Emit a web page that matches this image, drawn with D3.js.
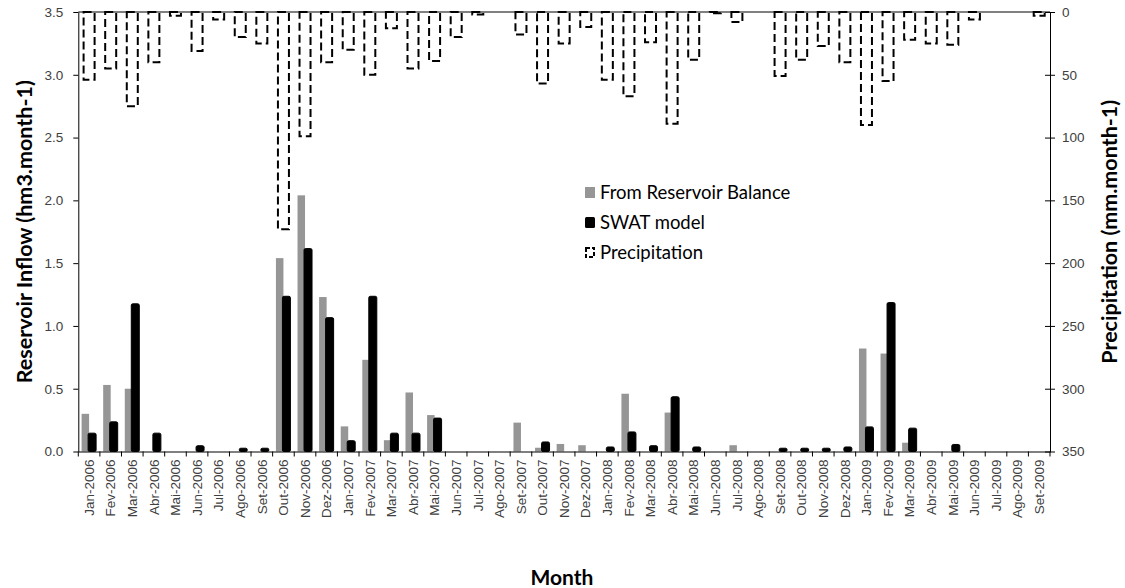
<!DOCTYPE html>
<html>
<head>
<meta charset="utf-8">
<script src="https://cdn.jsdelivr.net/npm/d3@7"></script>
<style>
  body { margin: 0; background: #fff; }
  svg { font-family: Lato, "Open Sans", sans-serif; }
  .axis text { fill: #404040; font-size: 13.5px; }
  .axis path, .axis line { stroke: #000; }
</style>
</head>
<body>
<script>
const width = 1125;
const height = 588;

// months on the category axis
const months = [
  "Jan-2006","Fev-2006","Mar-2006","Abr-2006","Mai-2006","Jun-2006","Jul-2006","Ago-2006","Set-2006","Out-2006","Nov-2006","Dez-2006",
  "Jan-2007","Fev-2007","Mar-2007","Abr-2007","Mai-2007","Jun-2007","Jul-2007","Ago-2007","Set-2007","Out-2007","Nov-2007","Dez-2007",
  "Jan-2008","Fev-2008","Mar-2008","Abr-2008","Mai-2008","Jun-2008","Jul-2008","Ago-2008","Set-2008","Out-2008","Nov-2008","Dez-2008",
  "Jan-2009","Fev-2009","Mar-2009","Abr-2009","Mai-2009","Jun-2009","Jul-2009","Ago-2009","Set-2009"
];

// reservoir inflow (hm3.month-1)
const reservoirBalance = [
  0.30,0.53,0.50,0,0,0,0,0,0,1.54,2.04,1.23,
  0.20,0.73,0.09,0.47,0.29,0,0,0,0.23,0.03,0.06,0.05,
  0,0.46,0,0.31,0,0,0.05,0,0,0,0,0,
  0.82,0.78,0.07,0,0,0,0,0,0
];
const swatModel = [
  0.15,0.24,1.18,0.15,0,0.05,0,0.03,0.03,1.24,1.62,1.07,
  0.09,1.24,0.15,0.15,0.27,0,0,0,0,0.08,0,0,
  0.04,0.16,0.05,0.44,0.04,0,0,0,0.03,0.03,0.03,0.04,
  0.20,1.19,0.19,0,0.06,0,0,0,0
];

// precipitation (mm.month-1), secondary axis, reversed
const precipitation = [
  54,45,75,40,3,31,6,20,25,173,99,40,
  30,50,13,45,39,20,2,0,18,57,25,12,
  54,67,24,89,38,1,8,0,51,38,27,40,
  90,55,22,25,26,6,0,0,3
];

const leftTicks = [0, 0.5, 1, 1.5, 2, 2.5, 3, 3.5];
const rightTicks = [0, 50, 100, 150, 200, 250, 300, 350];

const plot = { left: 78.3, right: 1050, top: 12, bottom: 451.5 };

const svg = d3.select("body").append("svg")
    .attr("width", width)
    .attr("height", height);

const x = d3.scaleBand()
    .domain(months)
    .range([plot.left, plot.right])
    .padding(0);

const y = d3.scaleLinear().domain([0, 3.5]).range([plot.bottom, plot.top]);
const yr = d3.scaleLinear().domain([0, 350]).range([plot.top, plot.bottom]);

const bw = x.bandwidth();

// gray bars
svg.append("g")
    .selectAll("rect")
    .data(months.map((m, i) => ({ m, v: reservoirBalance[i] })).filter(d => d.v > 0))
    .enter().append("rect")
    .attr("x", d => x(d.m) + bw * 0.5 - 7.5)
    .attr("width", 7.5)
    .attr("y", d => y(d.v))
    .attr("height", d => y(0) - y(d.v))
    .attr("fill", "#969696");

// black bars (SWAT)
svg.append("g")
    .selectAll("rect")
    .data(months.map((m, i) => ({ m, v: swatModel[i] })).filter(d => d.v > 0))
    .enter().append("rect")
    .attr("x", d => x(d.m) + bw * 0.5 - 1)
    .attr("width", 8)
    .attr("y", d => y(d.v) + 0.5)
    .attr("height", d => Math.max(0, y(0) - y(d.v) - 0.5))
    .attr("rx", 1.5)
    .attr("fill", "#000")
    .attr("stroke", "#000")
    .attr("stroke-width", 1);

// precipitation bars hanging from the top
svg.append("g")
    .selectAll("rect")
    .data(months.map((m, i) => ({ m, v: precipitation[i] })).filter(d => d.v > 0))
    .enter().append("rect")
    .attr("x", d => x(d.m) + bw * 0.5 - 5.5)
    .attr("width", 11)
    .attr("y", yr(0))
    .attr("height", d => yr(d.v) - yr(0))
    .attr("fill", "none")
    .attr("stroke", "#000")
    .attr("stroke-width", 2)
    .attr("stroke-dasharray", "8,4");

// top line
svg.append("line")
    .attr("x1", plot.left).attr("x2", plot.right)
    .attr("y1", plot.top).attr("y2", plot.top)
    .attr("stroke", "#000");

// left axis
svg.append("g")
    .attr("class", "axis")
    .attr("transform", `translate(${plot.left},0)`)
    .call(d3.axisLeft(y).tickValues(leftTicks).tickFormat(d3.format(".1f")).tickSize(5).tickPadding(10).tickSizeOuter(0));

// right axis (cross ticks)
const gRight = svg.append("g")
    .attr("class", "axis")
    .attr("transform", `translate(${plot.right},0)`)
    .call(d3.axisRight(yr).tickValues(rightTicks).tickSize(5).tickPadding(7).tickSizeOuter(0));
gRight.selectAll(".tick line").attr("x1", -5);

// bottom axis: labels at band centres, tick marks between categories
const gBottom = svg.append("g")
    .attr("class", "axis")
    .attr("transform", `translate(0,${plot.bottom})`)
    .call(d3.axisBottom(x).tickSize(0).tickSizeOuter(0));
gBottom.selectAll("text")
    .attr("text-anchor", "end")
    .attr("transform", "rotate(-90)")
    .attr("x", -8)
    .attr("y", 0)
    .attr("dy", "0.35em");

gBottom.selectAll(".sep")
    .data(months.map(m => x(m)).concat([plot.right]))
    .enter().append("line")
    .attr("x1", d => d).attr("x2", d => d)
    .attr("y1", 0).attr("y2", 5)
    .attr("stroke", "#000");

// axis titles
svg.append("text")
    .attr("transform", `translate(32,${(plot.top + plot.bottom) / 2}) rotate(-90)`)
    .attr("text-anchor", "middle")
    .attr("font-weight", "bold")
    .attr("font-size", 21.5)
    .text("Reservoir Inflow (hm3.month-1)");

svg.append("text")
    .attr("transform", `translate(1117,${(plot.top + plot.bottom) / 2}) rotate(-90)`)
    .attr("text-anchor", "middle")
    .attr("font-weight", "bold")
    .attr("font-size", 21.5)
    .text("Precipitation (mm.month-1)");

svg.append("text")
    .attr("x", 562)
    .attr("y", 585)
    .attr("text-anchor", "middle")
    .attr("font-weight", "bold")
    .attr("font-size", 21)
    .text("Month");

// legend
const legend = svg.append("g").attr("transform", "translate(585,187)");
const items = [
  { label: "From Reservoir Balance", type: "gray" },
  { label: "SWAT model", type: "black" },
  { label: "Precipitation", type: "precip" }
];
items.forEach((it, i) => {
  const g = legend.append("g").attr("transform", `translate(0,${i * 30})`);
  if (it.type === "gray") {
    g.append("rect").attr("width", 10).attr("height", 11).attr("fill", "#969696");
  } else if (it.type === "black") {
    g.append("rect").attr("width", 10).attr("height", 11).attr("rx", 1.5).attr("fill", "#000");
  } else {
    g.append("rect").attr("x", 1).attr("y", 1).attr("width", 8).attr("height", 9)
      .attr("fill", "none").attr("stroke", "#000").attr("stroke-width", 2).attr("stroke-dasharray", "4,2");
  }
  g.append("text")
    .attr("x", 15)
    .attr("y", 5.5)
    .attr("dy", "0.35em")
    .attr("font-size", 18.5)
    .attr("fill", "#000")
    .text(it.label);
});
</script>
</body>
</html>
